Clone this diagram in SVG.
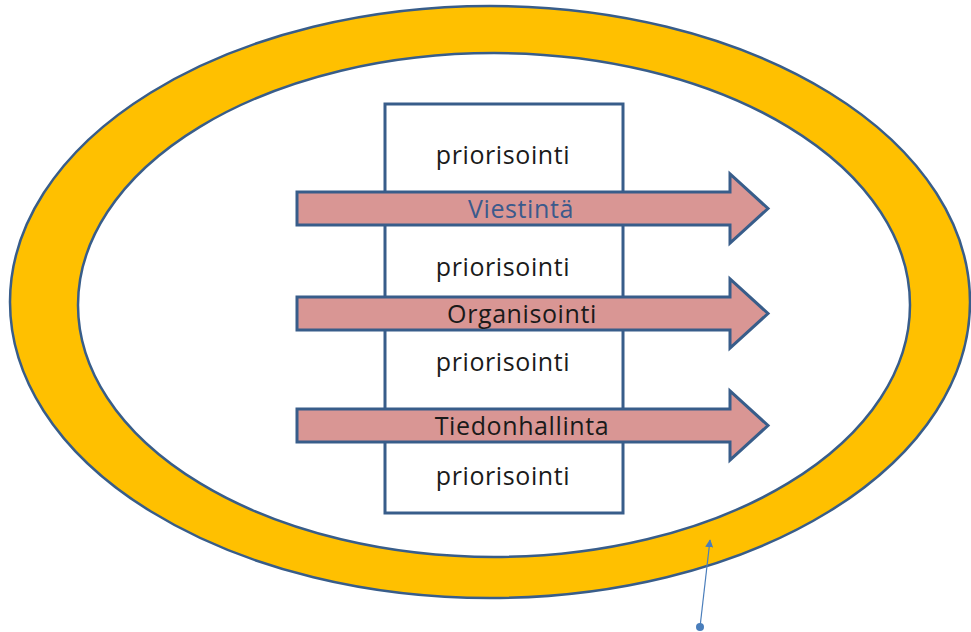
<svg xmlns="http://www.w3.org/2000/svg" width="971" height="632" viewBox="0 0 971 632">
  <style>
    .ring { fill: #FFC000; stroke: #385D8A; stroke-width: 2.5; }
    .inner { fill: #FFFFFF; stroke: #385D8A; stroke-width: 2.5; }
    .box { fill: #FFFFFF; stroke: #385D8A; stroke-width: 3; }
    .flow { fill: #D99694; stroke: #385D8A; stroke-width: 3; stroke-linejoin: miter; }
    .label { font-family: "Open Sans", "Noto Sans", "Liberation Sans", sans-serif; font-size: 25px; letter-spacing: 0.6px; text-anchor: middle; fill: #1A1A1A; }
    .blue { fill: #3B5A8C; }
    .pointer { stroke: #4A7EBB; stroke-width: 1.2; fill: none; }
  </style>
  <defs>
    <marker id="tip" viewBox="0 0 10 10" refX="9" refY="5" markerWidth="8" markerHeight="8" markerUnits="userSpaceOnUse" orient="auto">
      <path d="M0,0 L10,5 L0,10 Z" fill="#4A7EBB"/>
    </marker>
  </defs>

  <rect width="971" height="632" fill="#FFFFFF"/>

  <!-- outer frame: yellow band between two ellipses -->
  <g id="frame">
    <ellipse class="ring" cx="490" cy="302" rx="480" ry="296"/>
    <ellipse class="inner" cx="494" cy="305" rx="416" ry="252"/>
  </g>

  <!-- central column -->
  <g id="column">
    <rect class="box" x="385" y="104" width="238" height="409"/>
    <text class="label" x="503" y="164">priorisointi</text>
    <text class="label" x="503" y="276">priorisointi</text>
    <text class="label" x="503" y="371">priorisointi</text>
    <text class="label" x="503" y="485">priorisointi</text>
  </g>

  <!-- process arrows -->
  <g id="viestinta">
    <path class="flow" d="M297,192 L730,192 L730,174 L768,208.5 L730,243 L730,225 L297,225 Z"/>
    <text class="label blue" x="521" y="218">Viestintä</text>
  </g>
  <g id="organisointi">
    <path class="flow" d="M297,297 L730,297 L730,279 L768,313.5 L730,348 L730,330 L297,330 Z"/>
    <text class="label" x="522" y="323">Organisointi</text>
  </g>
  <g id="tiedonhallinta">
    <path class="flow" d="M297,409 L730,409 L730,391 L768,425.5 L730,460 L730,442 L297,442 Z"/>
    <text class="label" x="522" y="435">Tiedonhallinta</text>
  </g>

  <!-- pointer to the frame -->
  <g id="connectors">
    <line class="pointer" x1="700" y1="627" x2="710" y2="540" marker-end="url(#tip)"/>
    <circle cx="700" cy="627" r="4" fill="#4A7EBB"/>
  </g>
</svg>
